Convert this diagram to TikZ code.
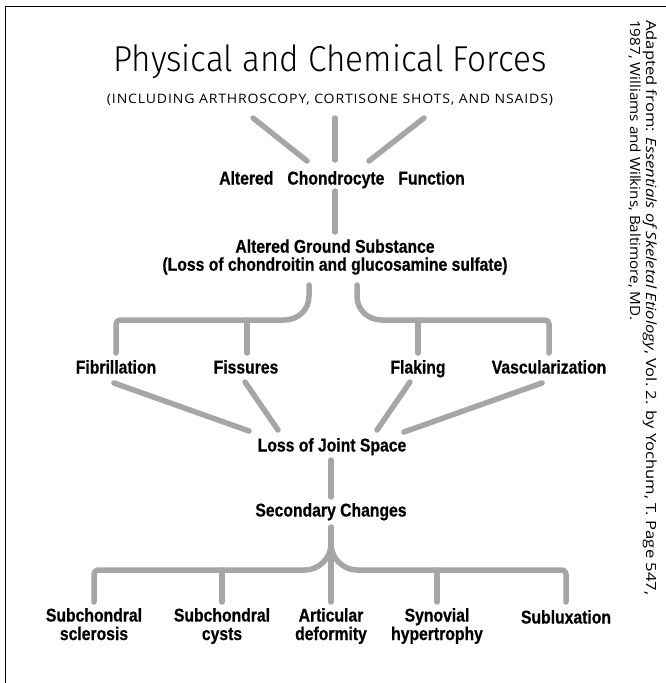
\documentclass[tikz,border=0pt]{standalone}
\usepackage{fontspec}
\usepackage{graphicx}
\setmainfont{Open Sans}
\newfontfamily\titlefont{Fira Sans Light}
\newfontfamily\subfont{Open Sans}[LetterSpace=6]
\newfontfamily\labfont{Liberation Sans}[FakeStretch=0.85, FakeBold=0.6]
\tikzset{
  conn/.style={draw=black!35, line width=5.5pt, line cap=round, line join=round},
  lab/.style={font=\labfont\bfseries\fontsize{18.5}{18.5}\selectfont, inner sep=0pt, align=center},
  labb/.style={lab, anchor=base},
  frame/.style={draw=black, line width=1pt}
}
\begin{document}
\begin{tikzpicture}[x=1pt, y=-1pt]
\useasboundingbox (0,0) rectangle (666,683);
\draw[frame] (5,683) -- (5,6) -- (666,6);

% titles
\node[inner sep=0pt] (title) at (330,62) {\resizebox{433pt}{\height}{\titlefont\fontsize{36}{40}\selectfont Physical and Chemical Forces}};
\node[inner sep=0pt] (sub) at (330,100) {\resizebox{446pt}{\height}{\subfont\fontsize{13}{15}\selectfont (INCLUDING ARTHROSCOPY, CORTISONE SHOTS, AND NSAIDS)}};

% side note
\node[rotate=-90, anchor=north west, inner sep=0pt, align=left, font=\fontsize{14}{16}\selectfont] (note) at (657,20)
  {\resizebox{575pt}{\height}{Adapted from: \textit{Essentials of Skeletal Etiology}, Vol.~2. by Yochum, T. Page 547,}\\
   \resizebox{300pt}{\height}{1987, Williams and Wilkins, Baltimore, MD.}};

% nodes
\node[labb] (acf) at (342,184.5) {Altered\hspace{14pt}Chondrocyte\hspace{14pt}Function};
\node[lab, font=\labfont\bfseries\fontsize{18.5}{18}\selectfont] (ags) at (335,257) {Altered Ground Substance\\(Loss of chondroitin and glucosamine sulfate)};
\node[labb] (fib) at (116,373.5) {Fibrillation};
\node[labb] (fis) at (246,373.5) {Fissures};
\node[labb] (flak) at (418,373.5) {Flaking};
\node[labb] (vasc) at (549,373.5) {Vascularization};
\node[labb] (loss) at (332,451.5) {Loss of Joint Space};
\node[labb] (sec) at (331,516.5) {Secondary Changes};
\node[lab] (b1) at (94,626) {Subchondral\\sclerosis\vphantom{y}};
\node[lab] (b2) at (222,626) {Subchondral\\cysts};
\node[lab] (b3) at (331,626) {Articular\\deformity};
\node[lab] (b4) at (437,626) {Synovial\\hypertrophy};
\node[labb] (b5) at (566,623.5) {Subluxation};

% connector coordinates
\coordinate (t1) at (253,118); \coordinate (t1b) at (307,161);
\coordinate (t2) at (335,118); \coordinate (t2b) at (335,160);
\coordinate (t3) at (424,118); \coordinate (t3b) at (369,161);
\coordinate (s1) at (335,191); \coordinate (s1b) at (335,232);
\coordinate (gl) at (309,285); \coordinate (gr) at (357,285);
\coordinate (fibT) at (116,353); \coordinate (fisT) at (247,353);
\coordinate (flakT) at (418,353); \coordinate (vascT) at (549,353);
\coordinate (fibB) at (114,383); \coordinate (fisB) at (245,382);
\coordinate (flakB) at (410,382); \coordinate (vascB) at (542,383);
\coordinate (l1) at (249,431); \coordinate (l2) at (278,430);
\coordinate (l3) at (377,430); \coordinate (l4) at (404,432);
\coordinate (s2) at (331,460); \coordinate (s2b) at (331,497);
\coordinate (s3) at (331,527);
\coordinate (b1T) at (94,602); \coordinate (b2T) at (222,602);
\coordinate (b3T) at (331,602); \coordinate (b4T) at (437,602);
\coordinate (b5T) at (566,602);

% connectors
\draw[conn] (t1) -- (t1b);
\draw[conn] (t2) -- (t2b);
\draw[conn] (t3) -- (t3b);
\draw[conn] (s1) -- (s1b);
\draw[conn] (gl) -- (309,296) .. controls (309,310) and (298,320) .. (284,320)
  [rounded corners=4pt] -- (116,320) -- (fibT);
\draw[conn] (fisT |- 0,320) -- (fisT);
\draw[conn] (gr) -- (357,296) .. controls (357,310) and (368,320) .. (382,320)
  [rounded corners=4pt] -- (549,320) -- (vascT);
\draw[conn] (flakT |- 0,320) -- (flakT);
\draw[conn] (fibB) -- (l1);
\draw[conn] (fisB) -- (l2);
\draw[conn] (flakB) -- (l3);
\draw[conn] (vascB) -- (l4);
\draw[conn] (s2) -- (s2b);
\draw[conn] (s3) -- (b3T);
\draw[conn] (331,544) .. controls (331,558) and (319,570) .. (305,570)
  [rounded corners=4pt] -- (94,570) -- (b1T);
\draw[conn] (331,544) .. controls (331,558) and (343,570) .. (357,570)
  [rounded corners=4pt] -- (566,570) -- (b5T);
\draw[conn] (b2T |- 0,570) -- (b2T);
\draw[conn] (b4T |- 0,570) -- (b4T);
\end{tikzpicture}
\end{document}
